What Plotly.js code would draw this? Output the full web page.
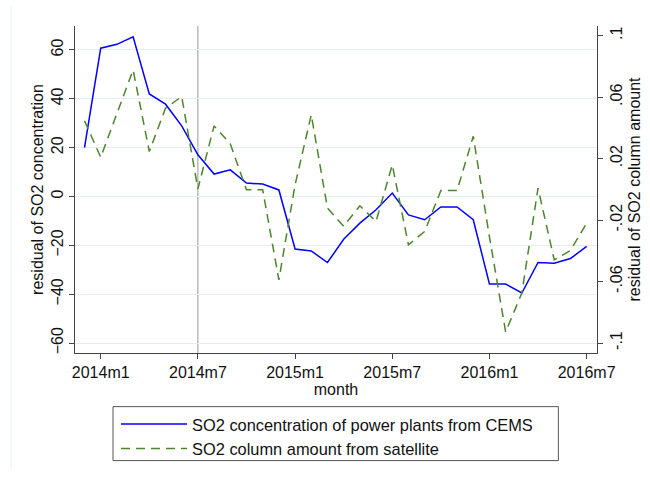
<!DOCTYPE html>
<html>
<head>
<meta charset="utf-8">
<script src="https://cdn.plot.ly/plotly-3.0.1.min.js"></script>
<style>
  html, body { margin: 0; padding: 0; background: #fff; }
  #chart { width: 650px; height: 479px; }
</style>
</head>
<body>
<div id="chart"></div>
<script>
// Months (categories)
var months = ['2013m12',
  '2014m1','2014m2','2014m3','2014m4','2014m5','2014m6','2014m7','2014m8','2014m9','2014m10','2014m11','2014m12',
  '2015m1','2015m2','2015m3','2015m4','2015m5','2015m6','2015m7','2015m8','2015m9','2015m10','2015m11','2015m12',
  '2016m1','2016m2','2016m3','2016m4','2016m5','2016m6','2016m7'];

// Residual of SO2 concentration (CEMS), left axis
var cems = [20.0,
  60.7, 62.3, 65.4, 42.0, 37.8, 28.9, 17.1, 9.2, 10.9, 5.5, 5.1, 2.7,
  -21.5, -22.3, -27.0, -17.5, -10.9, -5.4, 1.4, -7.5, -9.5, -4.3, -4.3, -9.5,
  -35.8, -35.8, -39.5, -27.0, -27.3, -25.4, -20.4];

// Residual of SO2 column amount (satellite), right axis
var satellite = [0.0446,
  0.0209, 0.0493, 0.0777, 0.0246, 0.0528, 0.0604, 0.0003, 0.0413, 0.0296, -0.0003, -0.0003, -0.0589,
  0.0030, 0.0485, -0.0122, -0.0240, -0.0107, -0.0209, 0.0159, -0.0361, -0.0274, -0.0008, -0.0008, 0.0345,
  -0.0309, -0.0928, -0.0675, 0.0008, -0.0459, -0.0398, -0.0220];

var xTicks = ['2014m1','2014m7','2015m1','2015m7','2016m1','2016m7'];
var leftTicks = [-60, -40, -20, 0, 20, 40, 60];
var rightTicks = [-0.1, -0.06, -0.02, 0.02, 0.06, 0.1];
var rightTickText = ['-.1', '-.06', '-.02', '.02', '.06', '.1'];
var markerMonth = '2014m7';

var FONT = 'Liberation Sans, Arial, Helvetica, sans-serif';
var TXT = '#111111';
var AX = '#444444';

var traces = [
  {
    x: months, y: cems, type: 'scatter', mode: 'lines',
    name: 'SO2 concentration of power plants from CEMS',
    line: { color: '#0000ff', width: 1.5 },
    yaxis: 'y'
  },
  {
    x: months, y: satellite, type: 'scatter', mode: 'lines',
    name: 'SO2 column amount from satellite',
    line: { color: '#4b862b', width: 1.5, dash: '9px,6px' },
    yaxis: 'y2'
  }
];

var layout = {
  width: 650, height: 479,
  paper_bgcolor: '#ffffff', plot_bgcolor: '#ffffff',
  margin: { l: 75, r: 53, t: 26, b: 126 },
  font: { family: FONT, size: 16, color: TXT },
  showlegend: true,
  xaxis: {
    type: 'category',
    range: [-0.587, 31.64],
    tickmode: 'array', tickvals: xTicks, ticktext: xTicks,
    ticks: 'outside', ticklen: 5, tickcolor: AX, tickwidth: 1,
    showline: true, linecolor: AX, linewidth: 1,
    showgrid: false, zeroline: false,
    tickfont: { family: FONT, size: 16, color: TXT },
    title: { text: 'month', font: { family: FONT, size: 16, color: TXT }, standoff: 2 }
  },
  yaxis: {
    range: [-64.05, 69.8],
    tickmode: 'array', tickvals: leftTicks,
    tickangle: -90,
    ticks: 'outside', ticklen: 5, tickcolor: AX, tickwidth: 1,
    showline: true, linecolor: AX, linewidth: 1,
    showgrid: true, gridcolor: '#e6eef0', gridwidth: 1,
    zeroline: false,
    tickfont: { family: FONT, size: 16, color: TXT },
    title: { text: 'residual of SO2 concentration', font: { family: FONT, size: 16, color: TXT }, standoff: 0 }
  },
  yaxis2: {
    overlaying: 'y', side: 'right',
    range: [-0.1065, 0.1063],
    tickmode: 'array', tickvals: rightTicks, ticktext: rightTickText,
    tickangle: -90,
    ticks: 'outside', ticklen: 5, tickcolor: AX, tickwidth: 1,
    showline: true, linecolor: AX, linewidth: 1,
    showgrid: false, zeroline: false,
    tickfont: { family: FONT, size: 16, color: TXT },
    title: { text: 'residual of SO2 column amount', font: { family: FONT, size: 16, color: TXT }, standoff: 4 }
  },
  legend: {
    x: 0.0786, y: -0.165, xanchor: 'left', yanchor: 'top',
    bgcolor: 'rgba(0,0,0,0)', borderwidth: 0,
    itemwidth: 66,
    font: { family: FONT, size: 16.4, color: TXT },
    tracegroupgap: 0
  },
  shapes: [
    { type: 'line', xref: 'x', yref: 'paper', x0: markerMonth, x1: markerMonth, y0: 0, y1: 1,
      line: { color: '#999999', width: 1 }, layer: 'below' },
    { type: 'rect', xref: 'paper', yref: 'paper', x0: 0.0728, x1: 0.926, y0: -0.164, y1: -0.329,
      line: { color: '#555555', width: 1 }, fillcolor: 'rgba(0,0,0,0)' },
    { type: 'line', xref: 'paper', yref: 'paper', x0: -0.1227, x1: -0.1227, y0: 1.06, y1: -0.36,
      line: { color: '#eef2f4', width: 1 } }
  ]
};

Plotly.newPlot('chart', traces, layout, { displayModeBar: false, staticPlot: true });
</script>
</body>
</html>
